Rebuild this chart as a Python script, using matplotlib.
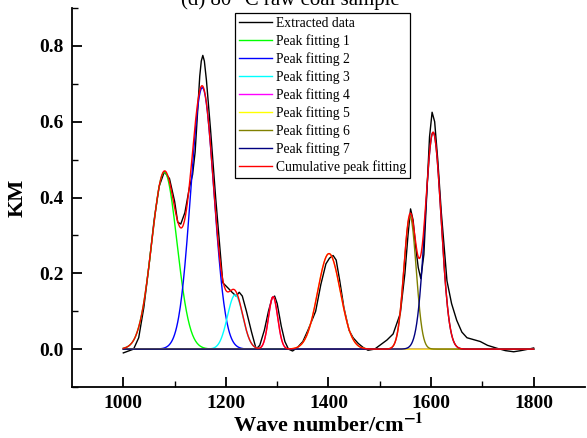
import numpy as np
import matplotlib.pyplot as plt

# =========================
# 0. 基本设置
# =========================
plt.rcParams["font.family"] = ["Liberation Serif", "DejaVu Serif"]
plt.rcParams["mathtext.fontset"] = "stix"

# =========================
# 1. 数据
# =========================
# 原始提取数据 (波数, KM)
raw_wave = [1000, 1010, 1020, 1030, 1035, 1040, 1050, 1060, 1070, 1080, 1090,
            1100, 1106, 1112, 1120, 1129, 1135, 1140, 1145, 1149, 1152, 1155,
            1158, 1162, 1170, 1180, 1194, 1205, 1212, 1220, 1226, 1232, 1240,
            1250, 1259, 1266, 1275, 1283, 1290, 1295, 1300, 1308, 1315, 1322,
            1330, 1340, 1350, 1360, 1366, 1375, 1385, 1395, 1402, 1409, 1415,
            1422, 1430, 1440, 1448, 1458, 1467, 1477, 1490, 1500, 1514, 1526,
            1540, 1549, 1555, 1560, 1565, 1570, 1575, 1580, 1586, 1592, 1597,
            1602, 1607, 1613, 1620, 1631, 1640, 1650, 1660, 1670, 1683, 1696,
            1710, 1729, 1745, 1761, 1775, 1790, 1800]
raw_km = [-0.010, -0.005, 0.000, 0.030, 0.070, 0.110, 0.220, 0.340, 0.430,
          0.468, 0.450, 0.390, 0.335, 0.330, 0.360, 0.427, 0.460, 0.520,
          0.630, 0.720, 0.760, 0.775, 0.760, 0.710, 0.580, 0.400, 0.175,
          0.160, 0.150, 0.140, 0.150, 0.140, 0.100, 0.045, 0.000, 0.010,
          0.050, 0.100, 0.135, 0.140, 0.120, 0.060, 0.020, 0.000, -0.005,
          0.005, 0.020, 0.050, 0.070, 0.100, 0.170, 0.225, 0.240, 0.247,
          0.235, 0.180, 0.110, 0.050, 0.030, 0.015, 0.005, -0.003, 0.000,
          0.010, 0.024, 0.040, 0.094, 0.200, 0.300, 0.370, 0.340, 0.270,
          0.215, 0.186, 0.250, 0.420, 0.560, 0.625, 0.600, 0.500, 0.360,
          0.180, 0.120, 0.076, 0.045, 0.030, 0.025, 0.020, 0.010, 0.002,
          -0.004, -0.007, -0.004, 0.000, 0.003]

# 分峰拟合参数：峰位、峰高、高斯宽度
peak_center = [1080, 1154, 1218, 1292, 1401, 1559, 1604]
peak_height = [0.467, 0.690, 0.143, 0.138, 0.252, 0.350, 0.572]
peak_sigma = [24.5, 22.5, 15.0, 9.0, 22.0, 12.0, 15.5]

peak_labels = ["Peak fitting 1", "Peak fitting 2", "Peak fitting 3",
               "Peak fitting 4", "Peak fitting 5", "Peak fitting 6",
               "Peak fitting 7"]
peak_colors = ["#00ff00", "#0000ff", "#00ffff", "#ff00ff",
               "#ffff00", "#808000", "#000080"]

# =========================
# 2. 计算拟合曲线
# =========================
wave = np.arange(1000, 1801, 1.0)
peaks = []
for c, h, s in zip(peak_center, peak_height, peak_sigma):
    peaks.append(h * np.exp(-(wave - c) ** 2 / (2 * s ** 2)))
cumulative = np.sum(peaks, axis=0)

# =========================
# 3. 绘图
# =========================
fig = plt.figure(figsize=(5.87, 4.38), dpi=100)
ax = fig.add_axes([0.1227, 0.1164, 0.8738, 0.8653])

ax.plot(raw_wave, raw_km, color="black", lw=1.0, label="Extracted data")
for p, lab, col in zip(peaks, peak_labels, peak_colors):
    ax.plot(wave, p, color=col, lw=1.0, label=lab)
ax.plot(wave, cumulative, color="red", lw=1.0, label="Cumulative peak fitting")

ax.set_xlim(900, 1900)
ax.set_ylim(-0.1, 0.9)
ax.set_xticks([1000, 1200, 1400, 1600, 1800])
ax.set_xticks(np.arange(1000, 1801, 100), minor=True)
ax.set_yticks([0.0, 0.2, 0.4, 0.6, 0.8])
ax.set_yticks(np.arange(-0.1, 0.95, 0.1), minor=True)
ax.yaxis.set_major_formatter(plt.FormatStrFormatter("%.1f"))

ax.spines["top"].set_visible(False)
ax.spines["right"].set_visible(False)
ax.spines["left"].set_linewidth(1.3)
ax.spines["bottom"].set_linewidth(1.3)
ax.tick_params(which="major", direction="in", length=7, width=1.3,
               labelsize=14, pad=6)
ax.tick_params(which="minor", direction="in", length=4, width=1.0)
for t in ax.get_xticklabels() + ax.get_yticklabels():
    t.set_fontweight("bold")

ax.set_xlabel("Wave number/cm$^{\\mathbf{-1}}$", fontsize=16,
              fontweight="bold", labelpad=1)
ax.set_ylabel("KM", fontsize=16, fontweight="bold", labelpad=8)

leg = ax.legend(loc="upper left", bbox_to_anchor=(0.318, 0.987),
                borderaxespad=0, fontsize=9.8, handlelength=2.4,
                handletextpad=0.3, labelspacing=0.31, borderpad=0.3,
                fancybox=False, framealpha=1, edgecolor="black")
leg.get_frame().set_linewidth(0.9)

fig.text(0.494, 0.988, "(d) 80 °C raw coal sample", fontsize=15,
         ha="center", va="baseline")

fig.savefig("out.png", dpi=100)
